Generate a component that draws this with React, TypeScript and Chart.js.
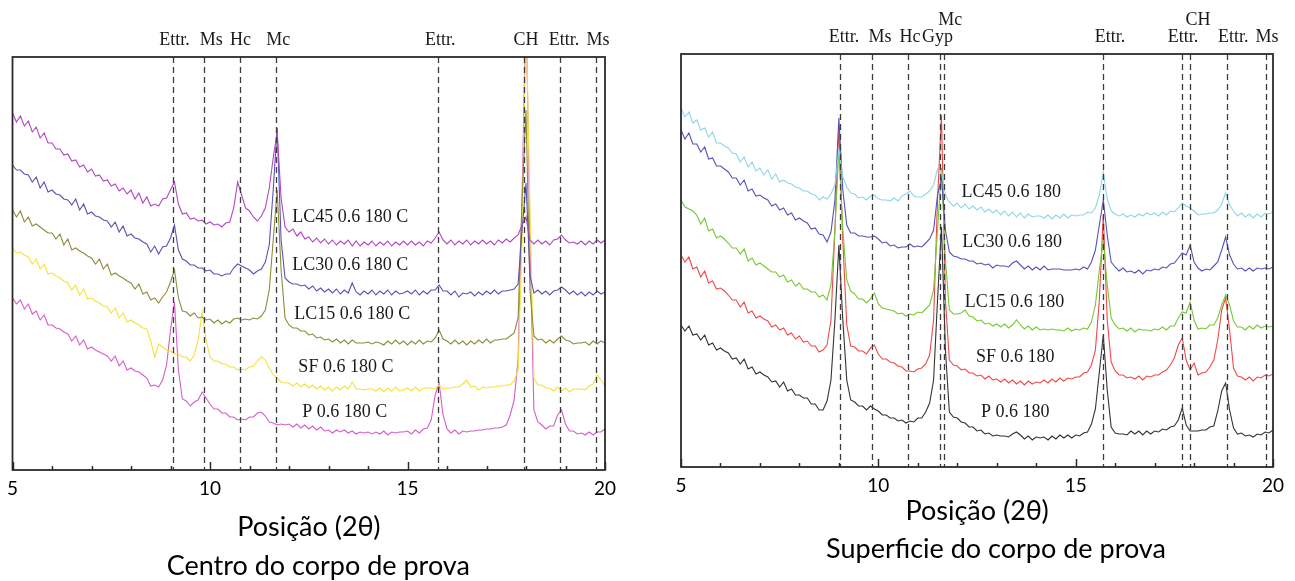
import React, { useEffect, useRef } from "react";
import { Chart, registerables } from "chart.js";

Chart.register(...registerables);

// 2θ positions shared by every pattern
const twoTheta = [
  5.0, 5.1, 5.2, 5.3, 5.4, 5.5, 5.6, 5.7, 5.8, 5.9,
  6.0, 6.1, 6.2, 6.3, 6.4, 6.5, 6.6, 6.7, 6.8, 6.9,
  7.0, 7.1, 7.2, 7.3, 7.4, 7.5, 7.6, 7.7, 7.8, 7.9,
  8.0, 8.1, 8.2, 8.3, 8.4, 8.5, 8.6, 8.7, 8.8, 8.9,
  9.0, 9.1, 9.2, 9.3, 9.4, 9.5, 9.6, 9.7, 9.8, 9.9,
  10.0, 10.1, 10.2, 10.3, 10.4, 10.5, 10.6, 10.7, 10.8, 10.9,
  11.0, 11.1, 11.2, 11.3, 11.4, 11.5, 11.6, 11.7, 11.8, 11.9,
  12.0, 12.1, 12.2, 12.3, 12.4, 12.5, 12.6, 12.7, 12.8, 12.9,
  13.0, 13.1, 13.2, 13.3, 13.4, 13.5, 13.6, 13.7, 13.8, 13.9,
  14.0, 14.1, 14.2, 14.3, 14.4, 14.5, 14.6, 14.7, 14.8, 14.9,
  15.0, 15.1, 15.2, 15.3, 15.4, 15.5, 15.6, 15.7, 15.8, 15.9,
  16.0, 16.1, 16.2, 16.3, 16.4, 16.5, 16.6, 16.7, 16.8, 16.9,
  17.0, 17.1, 17.2, 17.3, 17.4, 17.5, 17.6, 17.7, 17.8, 17.9,
  18.0, 18.1, 18.2, 18.3, 18.4, 18.5, 18.6, 18.7, 18.8, 18.9,
  19.0, 19.1, 19.2, 19.3, 19.4, 19.5, 19.6, 19.7, 19.8, 19.9,
  20.0,
];

// ---------- Centro do corpo de prova (offset intensities, a.u.) ----------
const centerLC45 = [
  357, 348, 354, 344, 349, 338, 343, 332, 337, 327,
  327, 321, 321, 315, 316, 309, 310, 303, 305, 298,
  301, 294, 295, 289, 290, 284, 286, 279, 282, 276,
  280, 271, 277, 267, 273, 264, 266, 264, 271, 272,
  280, 288, 266, 256, 257, 251, 252, 249, 250, 246,
  248, 245, 246, 243, 247, 248, 262, 288, 275, 262,
  259, 253, 249, 254, 262, 282, 312, 338, 272, 243,
  238, 241, 234, 238, 231, 233, 228, 232, 227, 231,
  226, 230, 225, 229, 226, 230, 224, 229, 224, 228,
  225, 229, 224, 228, 225, 229, 224, 228, 225, 229,
  225, 229, 225, 228, 224, 229, 227, 232, 238, 230,
  226, 230, 225, 229, 226, 230, 225, 229, 226, 230,
  226, 229, 225, 230, 227, 231, 228, 232, 235, 245,
  253, 230, 226, 230, 226, 229, 225, 230, 231, 235,
  230, 227, 228, 226, 229, 225, 229, 226, 230, 227,
  230,
];
const centerLC30 = [
  305, 300, 300, 296, 295, 288, 293, 282, 288, 278,
  280, 276, 275, 271, 270, 265, 271, 260, 266, 256,
  258, 254, 253, 250, 249, 243, 248, 238, 244, 234,
  236, 232, 231, 228, 226, 218, 224, 216, 223, 224,
  232, 245, 220, 211, 209, 205, 205, 202, 202, 199,
  200, 196, 196, 194, 196, 196, 202, 206, 204, 202,
  200, 196, 199, 201, 208, 225, 280, 342, 230, 192,
  188, 186, 186, 184, 185, 181, 184, 179, 182, 178,
  181, 177, 181, 176, 180, 177, 187, 178, 175, 179,
  176, 180, 175, 179, 176, 180, 175, 179, 176, 177,
  179, 176, 180, 175, 179, 176, 180, 180, 185, 179,
  179, 175, 179, 173, 177, 176, 178, 174, 178, 175,
  179, 176, 180, 176, 179, 179, 180, 181, 186, 240,
  287, 195, 177, 180, 176, 179, 175, 179, 180, 183,
  180, 176, 179, 175, 178, 174, 178, 175, 179, 176,
  178,
];
const centerLC15 = [
  260, 253, 259, 248, 253, 244, 246, 243, 240, 237,
  237, 231, 236, 225, 231, 220, 222, 219, 217, 214,
  212, 206, 211, 201, 206, 195, 197, 194, 192, 189,
  187, 181, 186, 176, 178, 170, 172, 167, 173, 178,
  188, 200, 172, 159, 158, 154, 157, 152, 153, 150,
  151, 147, 150, 146, 149, 147, 151, 152, 150, 151,
  150, 152, 151, 154, 160, 180, 230, 280, 200, 152,
  145, 142, 142, 139, 139, 135, 136, 132, 133, 130,
  131, 128, 131, 127, 130, 126, 130, 127, 127, 127,
  128, 126, 128, 127, 125, 129, 126, 130, 126, 129,
  125, 129, 126, 130, 126, 129, 128, 132, 140, 131,
  129, 126, 130, 126, 129, 125, 129, 126, 130, 127,
  131, 127, 130, 130, 131, 131, 134, 137, 152, 270,
  360, 180, 134, 130, 131, 127, 130, 127, 131, 134,
  130, 129, 126, 127, 127, 128, 125, 129, 126, 129,
  127,
];
const centerSF = [
  222, 217, 218, 215, 213, 206, 211, 201, 206, 196,
  197, 194, 192, 189, 187, 180, 185, 175, 181, 171,
  172, 169, 167, 164, 163, 157, 162, 152, 157, 148,
  150, 147, 145, 142, 141, 129, 113, 126, 123, 120,
  119, 116, 116, 113, 113, 109, 115, 130, 158, 130,
  113, 109, 109, 106, 106, 103, 103, 100, 101, 100,
  103, 104, 109, 113, 110, 102, 95, 92, 88, 87,
  87, 84, 87, 83, 86, 82, 85, 81, 84, 80,
  83, 79, 83, 80, 84, 81, 88, 81, 81, 80,
  81, 81, 79, 82, 78, 82, 79, 83, 79, 80,
  82, 79, 83, 79, 82, 82, 82, 81, 85, 81,
  82, 82, 83, 83, 86, 90, 83, 84, 80, 83,
  82, 83, 83, 84, 84, 85, 85, 89, 100, 230,
  460, 260, 92, 85, 85, 82, 82, 79, 83, 79,
  82, 78, 81, 81, 81, 80, 84, 86, 95, 90,
  84,
];
const centerP = [
  172, 166, 170, 161, 166, 156, 159, 150, 155, 145,
  145, 142, 141, 138, 136, 129, 134, 125, 130, 121,
  123, 120, 118, 116, 114, 109, 114, 104, 109, 100,
  102, 99, 98, 95, 92, 84, 85, 83, 90, 105,
  140, 168, 100, 71, 69, 64, 68, 70, 78, 72,
  66, 61, 61, 57, 57, 53, 53, 50, 51, 50,
  53, 53, 57, 58, 54, 48, 47, 45, 46, 45,
  46, 43, 46, 42, 45, 41, 44, 40, 43, 39,
  40, 37, 40, 38, 40, 37, 39, 36, 38, 37,
  38, 36, 38, 36, 39, 35, 38, 37, 38, 38,
  39, 36, 40, 37, 41, 42, 50, 75, 87, 55,
  41, 37, 40, 36, 39, 38, 39, 39, 40, 40,
  41, 41, 42, 42, 43, 45, 55, 70, 110, 270,
  470, 230, 60, 48, 45, 41, 44, 44, 55, 60,
  46, 39, 39, 36, 37, 35, 38, 35, 38, 38,
  41,
];

// ---------- Superficie do corpo de prova ----------
const surfLC45 = [
  359, 350, 355, 344, 347, 337, 339, 330, 335, 324,
  324, 321, 319, 314, 313, 305, 310, 300, 305, 296,
  299, 292, 297, 288, 293, 285, 287, 284, 283, 280,
  279, 276, 276, 273, 272, 267, 270, 268, 273, 282,
  317, 290, 280, 274, 273, 269, 270, 267, 271, 272,
  268, 267, 267, 266, 269, 266, 271, 273, 276, 271,
  270, 270, 273, 276, 282, 298, 295, 272, 265, 261,
  264, 259, 263, 258, 261, 257, 260, 255, 258, 254,
  257, 252, 256, 251, 255, 250, 254, 249, 253, 250,
  251, 251, 249, 252, 248, 252, 249, 253, 249, 252,
  251, 252, 252, 255, 254, 259, 272, 295, 268, 256,
  253, 251, 253, 250, 252, 250, 253, 251, 254, 252,
  254, 251, 255, 252, 256, 255, 259, 264, 261, 259,
  256, 252, 253, 253, 254, 254, 257, 263, 274, 262,
  256, 251, 254, 250, 253, 249, 253, 250, 254, 253,
  255,
];
const surfLC30 = [
  337, 328, 334, 323, 323, 315, 320, 308, 309, 301,
  301, 298, 295, 289, 289, 282, 287, 276, 278, 271,
  272, 269, 267, 261, 263, 257, 259, 252, 254, 247,
  249, 246, 244, 238, 239, 233, 232, 225, 235, 267,
  349, 277, 242, 234, 234, 231, 231, 230, 230, 231,
  228, 224, 225, 221, 222, 219, 220, 220, 223, 220,
  221, 220, 224, 228, 237, 272, 289, 237, 215, 211,
  210, 208, 208, 206, 206, 203, 204, 202, 203, 199,
  202, 201, 201, 200, 204, 206, 202, 198, 201, 197,
  200, 197, 201, 197, 198, 198, 198, 197, 197, 197,
  198, 197, 200, 198, 205, 217, 242, 267, 232, 205,
  200, 196, 199, 195, 196, 194, 197, 193, 197, 196,
  198, 197, 200, 199, 203, 204, 209, 214, 212, 222,
  205, 199, 196, 198, 197, 201, 205, 217, 230, 212,
  203, 198, 199, 196, 199, 196, 199, 198, 199, 198,
  200,
];
const surfLC15 = [
  267, 260, 258, 256, 252, 243, 249, 236, 238, 229,
  231, 228, 224, 219, 219, 213, 218, 206, 209, 202,
  204, 201, 198, 195, 195, 190, 192, 185, 187, 181,
  184, 178, 178, 175, 175, 170, 172, 167, 182, 237,
  317, 237, 187, 176, 173, 168, 168, 164, 168, 174,
  163, 159, 158, 157, 156, 153, 154, 151, 153, 152,
  155, 154, 158, 162, 177, 237, 299, 207, 157, 153,
  153, 154, 157, 151, 150, 146, 147, 143, 144, 141,
  143, 140, 143, 139, 142, 147, 142, 138, 141, 137,
  140, 137, 138, 137, 138, 137, 137, 136, 139, 136,
  138, 137, 139, 138, 145, 162, 197, 227, 182, 149,
  142, 138, 139, 136, 139, 135, 138, 137, 137, 136,
  138, 137, 140, 137, 141, 141, 149, 155, 154, 165,
  147, 138, 139, 138, 142, 142, 149, 162, 172, 162,
  146, 140, 140, 137, 141, 138, 142, 139, 141, 140,
  141,
];
const surfSF = [
  212, 205, 210, 198, 200, 190, 196, 184, 186, 178,
  179, 176, 172, 167, 167, 160, 165, 154, 156, 149,
  151, 148, 146, 140, 142, 137, 139, 132, 134, 128,
  131, 125, 126, 121, 121, 115, 117, 122, 147, 237,
  339, 227, 142, 121, 120, 116, 116, 113, 119, 122,
  113, 108, 108, 105, 104, 101, 100, 96, 96, 95,
  98, 99, 103, 112, 147, 267, 352, 167, 107, 102,
  101, 97, 98, 94, 94, 91, 92, 88, 91, 87,
  88, 85, 88, 84, 87, 83, 86, 82, 86, 83,
  85, 84, 87, 84, 88, 85, 89, 86, 89, 88,
  90, 90, 94, 95, 102, 117, 167, 252, 147, 105,
  96, 92, 92, 89, 90, 88, 91, 87, 91, 90,
  92, 92, 95, 97, 102, 109, 122, 129, 107, 97,
  104, 92, 94, 95, 100, 107, 127, 157, 169, 137,
  99, 91, 90, 87, 90, 86, 90, 89, 92, 91,
  93,
];
const surfP = [
  142, 136, 141, 132, 133, 127, 132, 122, 124, 117,
  119, 116, 114, 108, 109, 103, 108, 98, 100, 93,
  95, 92, 90, 85, 86, 80, 85, 76, 78, 72,
  72, 69, 69, 63, 63, 57, 57, 66, 87, 147,
  222, 147, 87, 67, 65, 61, 61, 57, 61, 58,
  56, 52, 52, 49, 49, 46, 47, 44, 46, 45,
  49, 49, 55, 64, 87, 167, 240, 117, 55, 50,
  49, 45, 44, 40, 40, 36, 37, 33, 34, 31,
  32, 31, 31, 30, 33, 35, 32, 28, 31, 27,
  30, 29, 30, 27, 31, 28, 32, 29, 32, 29,
  32, 31, 34, 35, 43, 58, 95, 132, 77, 40,
  34, 33, 33, 32, 36, 33, 36, 32, 36, 33,
  36, 35, 38, 37, 40, 41, 47, 59, 42, 36,
  36, 36, 37, 37, 40, 41, 56, 76, 84, 57,
  39, 33, 34, 31, 32, 30, 33, 32, 35, 34,
  37,
];

// series names / colours
const centerNames = ["LC45 0.6 180 C", "LC30 0.6 180 C", "LC15 0.6 180 C", "SF 0.6 180 C", "P 0.6 180 C"];
const centerColors = ["#b046c2", "#5a52b6", "#8e8c3a", "#f4e23a", "#d65ccc"];
const centerNameX = [13.55, 13.55, 13.6, 13.44, 13.41];
const centerNameY = [253, 205, 156, 103, 58];

const surfNames = ["LC45 0.6 180", "LC30 0.6 180", "LC15 0.6 180", "SF 0.6 180", "P 0.6 180"];
const surfColors = ["#8cd6ea", "#5552ba", "#78c832", "#f04848", "#333333"];
const surfNameX = [13.37, 13.39, 13.45, 13.47, 13.47];
const surfNameY = [275, 225, 165, 110, 55];

// phase reference lines and labels
const centerPhaseLines = [9.06, 9.84, 10.75, 11.68, 15.78, 17.95, 18.85, 19.76];
const centerPhaseLabels = ["Ettr.", "Ms", "Hc", "Mc", "Ettr.", "CH", "Ettr.", "Ms"];
const centerPhaseLabelX = [9.1, 10.03, 10.77, 11.73, 15.83, 18.0, 18.96, 19.82];
const centerPhaseLabelRow = [0, 0, 0, 0, 0, 0, 0, 0];

const surfPhaseLines = [9.02, 9.85, 10.76, 11.55, 11.67, 15.68, 17.7, 17.9, 18.84, 19.81];
const surfPhaseLabels = ["Ettr.", "Ms", "Hc", "Gyp", "Mc", "Ettr.", "Ettr.", "CH", "Ettr.", "Ms"];
const surfPhaseLabelX = [9.13, 10.04, 10.8, 11.5, 11.82, 15.87, 17.72, 18.1, 18.99, 19.85];
const surfPhaseLabelRow = [0, 0, 0, 0, 1, 0, 0, 1, 0, 0];

const xTickMarks = [5, 6, 7, 8, 9, 10, 11, 12, 13, 14, 15, 16, 17, 18, 19, 20];

const SERIF = '"Liberation Serif", "DejaVu Serif", serif';
const SANS = 'Lato, "Open Sans", sans-serif';

const decorPlugin = {
  id: "decor",
  afterDatasetsDraw(chart: any, _args: any, o: any) {
    const { ctx, chartArea: a, scales } = chart;
    const xs = scales.x;
    const ys = scales.y;
    ctx.save();
    // dashed phase lines
    ctx.strokeStyle = "#3c3c3c";
    ctx.lineWidth = 1.3;
    ctx.setLineDash([6, 4]);
    for (const v of o.lines) {
      const px = Math.round(xs.getPixelForValue(v)) + 0.5;
      ctx.beginPath();
      ctx.moveTo(px, a.top);
      ctx.lineTo(px, a.bottom);
      ctx.stroke();
    }
    ctx.setLineDash([]);
    // box
    ctx.strokeStyle = "#2b2b2b";
    ctx.lineWidth = 1.8;
    ctx.strokeRect(a.left, a.top, a.right - a.left, a.bottom - a.top);
    // inward ticks
    ctx.lineWidth = 1.5;
    for (const v of xTickMarks) {
      const px = Math.round(xs.getPixelForValue(v)) + 0.5;
      const len = v % 5 === 0 ? 8 : 4;
      ctx.beginPath();
      ctx.moveTo(px, a.bottom);
      ctx.lineTo(px, a.bottom - len);
      ctx.stroke();
    }
    // phase labels
    ctx.fillStyle = "#1a1a1a";
    ctx.font = `18px ${SERIF}`;
    ctx.textAlign = "center";
    ctx.textBaseline = "middle";
    o.labels.forEach((t: string, i: number) => {
      const px = xs.getPixelForValue(o.labelX[i]);
      const py = a.top - 17 - o.labelRow[i] * 17;
      ctx.fillText(t, px, py);
    });
    // series labels
    o.names.forEach((t: string, i: number) => {
      ctx.fillText(t, xs.getPixelForValue(o.nameX[i]), ys.getPixelForValue(o.nameY[i]));
    });
    // caption
    ctx.fillStyle = "#000";
    ctx.font = `27px ${SANS}`;
    ctx.fillText(o.caption, (a.left + a.right) / 2 + o.captionDx, a.bottom + o.captionDy);
    ctx.restore();
  },
};

type Panel = {
  series: number[][];
  names: string[];
  colors: string[];
  nameX: number[];
  nameY: number[];
  lines: number[];
  labels: string[];
  labelX: number[];
  labelRow: number[];
  caption: string;
  captionDx: number;
  captionDy: number;
  padL: number;
  padR: number;
  padT: number;
  axisH: number;
  titlePadB: number;
};

function buildConfig(p: Panel): any {
  return {
    type: "line",
    data: {
      datasets: p.series.map((vals, k) => ({
        label: p.names[k],
        data: twoTheta.map((x, i) => ({ x, y: vals[i] })),
        borderColor: p.colors[k],
        borderWidth: 1.1,
        pointRadius: 0,
        tension: 0,
        fill: false,
        clip: 0,
      })),
    },
    options: {
      responsive: false,
      animation: false,
      events: [],
      layout: { padding: { left: p.padL, right: p.padR, top: p.padT, bottom: 0 } },
      plugins: {
        legend: { display: false },
        tooltip: { enabled: false },
        decor: {
          lines: p.lines,
          labels: p.labels,
          labelX: p.labelX,
          labelRow: p.labelRow,
          names: p.names,
          nameX: p.nameX,
          nameY: p.nameY,
          caption: p.caption,
          captionDx: p.captionDx,
          captionDy: p.captionDy,
        },
      },
      scales: {
        x: {
          type: "linear",
          min: 5,
          max: 20,
          grid: { display: false, drawTicks: false },
          border: { display: false },
          ticks: {
            stepSize: 5,
            color: "#000",
            padding: 7,
            maxRotation: 0,
            font: { family: SANS, size: 19 },
          },
          title: {
            display: true,
            text: "Posição (2θ)",
            color: "#000",
            font: { family: SANS, size: 27 },
            padding: { top: 0, bottom: p.titlePadB },
          },
          afterFit: (s: any) => {
            s.height = p.axisH;
          },
        },
        y: { display: false, min: 0, max: 413 },
      },
    },
    plugins: [decorPlugin],
  };
}

const centerPanel: Panel = {
  series: [centerLC45, centerLC30, centerLC15, centerSF, centerP],
  names: centerNames,
  colors: centerColors,
  nameX: centerNameX,
  nameY: centerNameY,
  lines: centerPhaseLines,
  labels: centerPhaseLabels,
  labelX: centerPhaseLabelX,
  labelRow: centerPhaseLabelRow,
  caption: "Centro do corpo de prova",
  captionDx: 9.5,
  captionDy: 96,
  padL: 12,
  padR: 35,
  padT: 57,
  axisH: 111,
  titlePadB: 37.8,
};

const surfPanel: Panel = {
  series: [surfLC45, surfLC30, surfLC15, surfSF, surfP],
  names: surfNames,
  colors: surfColors,
  nameX: surfNameX,
  nameY: surfNameY,
  lines: surfPhaseLines,
  labels: surfPhaseLabels,
  labelX: surfPhaseLabelX,
  labelRow: surfPhaseLabelRow,
  caption: "Superficie do corpo de prova",
  captionDx: 19,
  captionDy: 82,
  padL: 41,
  padR: 22,
  padT: 54,
  axisH: 114,
  titlePadB: 53.8,
};

function XrdChart({ panel, left, width }: { panel: Panel; left: number; width: number }) {
  const ref = useRef<HTMLCanvasElement>(null);
  useEffect(() => {
    const chart = new Chart(ref.current as HTMLCanvasElement, buildConfig(panel));
    return () => chart.destroy();
  }, [panel]);
  return (
    <canvas
      ref={ref}
      width={width}
      height={581}
      style={{ position: "absolute", left, top: 0, width, height: 581 }}
    />
  );
}

export default function App() {
  return (
    <div style={{ position: "absolute", left: 0, top: 0, width: 1295, height: 581, background: "#fff" }}>
      <XrdChart panel={centerPanel} left={0} width={640} />
      <XrdChart panel={surfPanel} left={640} width={655} />
    </div>
  );
}
